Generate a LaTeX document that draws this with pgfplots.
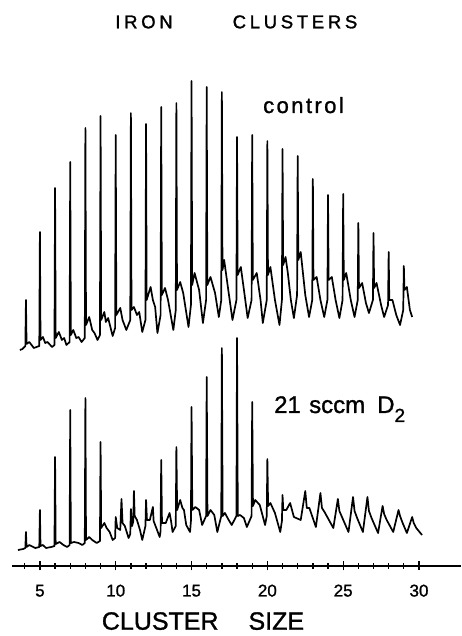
\documentclass[border=0pt]{standalone}
\usepackage{pgfplots}
\pgfplotsset{compat=1.18}
\usepackage{fontspec}
\setmainfont{Liberation Sans}[FakeBold=1.2]
\newfontfamily\titlefont{Liberation Sans}[LetterSpace=20, FakeBold=1.4]
\newfontfamily\labfont{Liberation Sans}[LetterSpace=11, FakeBold=1.2]
\begin{document}
\begin{tikzpicture}
\begin{axis}[
  at={(12pt,70pt)}, anchor=south west,
  scale only axis, width=449pt, height=566pt,
  xmin=3.16, xmax=32.77, ymin=0, ymax=566,
  axis x line=bottom, axis y line=none,
  axis line style={line width=1.8pt, -},
  x axis line style={-},
  xtick={5,10,15,20,25,30},
  xticklabels={5,10,15,20,25,30},
  minor xtick={4,6,7,8,9,11,12,13,14,16,17,18,19,21,22,23,24,26,27,28,29},
  tick align=center,
  major tick length=9pt, minor tick length=6pt,
  tick style={black, line width=1.3pt},
  minor tick style={black, line width=1.3pt},
  tick label style={font=\fontsize{17}{17}\selectfont},
  x tick label style={font=\fontsize{17}{17}\selectfont, anchor=base, yshift=-26pt},
  xlabel={CLUSTER\hspace{30pt}SIZE},
  xlabel style={at={(axis description cs:0.4254,-0.1125)}, anchor=base, inner sep=0pt, font=\fontsize{25}{25}\selectfont},
  clip=false,
]
% control
\addplot[black, line width=1.7pt, line join=round, mark=none] coordinates {
(3.68,216) (3.85,217) (4.04,220) (4.08,266) (4.12,222) (4.3,224) (4.6,218) (4.96,220)
(5,334) (5.04,226) (5.2,229) (5.35,223) (5.5,224) (5.8,219) (5.96,221)
(6,378) (6.04,228) (6.25,234) (6.45,226) (6.6,228) (6.75,221) (6.96,224)
(7,404) (7.04,231) (7.2,236) (7.4,228) (7.55,229) (7.75,224) (7.96,228)
(8,438) (8.04,241) (8.25,249) (8.45,236) (8.6,233) (8.8,226) (8.96,231)
(9,450) (9.04,246) (9.25,254) (9.35,244) (9.5,248) (9.8,230) (9.96,238)
(10,431) (10.04,251) (10.3,258) (10.45,246) (10.7,236) (10.96,246)
(11,453) (11.04,256) (11.2,259) (11.4,251) (11.55,254) (11.75,234) (11.96,246)
(12,442) (12.04,266) (12.3,279) (12.45,266) (12.6,259) (12.75,233) (12.96,251)
(13,459) (13.04,271) (13.25,278) (13.45,266) (13.8,236) (13.96,256)
(14,463) (14.04,276) (14.25,284) (14.45,273) (14.8,239) (14.96,261)
(15,485) (15.04,281) (15.2,293) (15.5,276) (15.75,243) (15.96,266)
(16,479) (16.04,281) (16.25,289) (16.55,273) (16.8,249) (16.96,266)
(17,474) (17.04,296) (17.15,306) (17.45,273) (17.7,246) (17.96,266)
(18,429) (18.04,291) (18.25,299) (18.5,271) (18.7,248) (18.96,266)
(19,431) (19.04,286) (19.3,293) (19.55,266) (19.7,243) (19.96,266)
(20,425) (20.04,291) (20.2,299) (20.5,266) (20.8,241) (20.96,266)
(21,417) (21.04,301) (21.2,309) (21.35,293) (21.55,266) (21.75,248) (21.96,271)
(22,410) (22.04,306) (22.2,314) (22.5,271) (22.75,249) (22.96,266)
(23,387) (23.04,286) (23.25,289) (23.5,266) (23.75,249) (23.96,266)
(24,371) (24.04,286) (24.25,289) (24.5,266) (24.75,248) (24.96,266)
(25,372) (25.04,286) (25.2,293) (25.5,266) (25.75,249) (25.96,266)
(26,343) (26.04,278) (26.25,283) (26.5,263) (26.7,253) (26.96,266)
(27,333) (27.04,278) (27.2,283) (27.5,261) (27.7,249) (27.96,261)
(28,314) (28.04,266) (28.25,266) (28.5,251) (28.75,241) (28.96,256)
(29,300) (29.04,276) (29.2,279) (29.4,256) (29.55,249)
};
% 21 sccm D2
\addplot[black, line width=1.7pt, line join=round, mark=none] coordinates {
(3.55,16) (3.9,17) (4.04,18) (4.08,34) (4.12,19) (4.3,21) (4.7,18) (4.96,19)
(5,56) (5.04,20) (5.2,21) (5.4,18) (5.75,19) (5.96,20)
(6,109) (6.04,22) (6.3,24) (6.55,21) (6.8,19) (6.96,21)
(7,156) (7.04,23) (7.25,24) (7.55,23) (7.8,21) (7.96,23)
(8,168) (8.04,26) (8.25,29) (8.45,26) (8.75,23) (8.96,25)
(9,124) (9.04,38) (9.25,43) (9.4,38) (9.6,34) (9.8,26) (9.96,28)
(10,49) (10.1,38) (10.3,36) (10.38,67) (10.45,43) (10.6,40) (10.85,28) (10.96,32)
(11,57) (11.08,40) (11.16,45) (11.2,75) (11.25,50) (11.4,46) (11.6,36) (11.75,26) (11.96,40)
(12,66) (12.06,46) (12.25,46) (12.45,59) (12.5,45) (12.65,39) (12.9,29) (12.96,35)
(13,106) (13.05,43) (13.3,43) (13.55,53) (13.65,45) (13.75,34) (13.96,40)
(14,119) (14.05,56) (14.25,66) (14.4,58) (14.5,56) (14.65,41) (14.9,34) (14.96,45)
(15,159) (15.05,56) (15.25,59) (15.5,56) (15.7,41) (15.96,50)
(16,189) (16.05,50) (16.25,56) (16.5,51) (16.7,34) (16.96,50)
(17,218) (17.05,50) (17.2,53) (17.45,46) (17.65,41) (17.96,50)
(18,228) (18.05,50) (18.2,51) (18.45,48) (18.65,39) (18.96,50)
(19,164) (19.05,60) (19.2,66) (19.5,61) (19.85,41) (19.96,50)
(20,107) (20.05,60) (20.2,63) (20.5,53) (20.85,34) (20.96,45)
(21,71) (21.05,56) (21.25,56) (21.5,63) (21.75,49) (22.2,46)
(22.5,75) (22.6,58) (22.77,58) (23.2,39)
(23.5,73) (23.6,58) (23.77,54) (24.35,38)
(24.65,67) (24.75,55) (24.92,49) (25.35,34)
(25.65,69) (25.75,55) (25.92,48) (26.3,34)
(26.6,69) (26.7,55) (26.87,48) (27.3,33)
(27.6,60) (27.7,52) (27.87,46) (28.3,34)
(28.65,56) (28.75,50) (28.92,43) (29.2,33)
(29.55,49) (29.65,43) (29.82,38) (30.2,31)
};
\end{axis}
\node[anchor=base, inner sep=0pt, font=\titlefont\fontsize{18.5}{18.5}\selectfont] at (144pt,607.7pt) {IRON};
\node[anchor=base, inner sep=0pt, font=\titlefont\fontsize{18.5}{18.5}\selectfont] at (295pt,607.7pt) {CLUSTERS};
\node[anchor=base west, inner sep=0pt, font=\labfont\fontsize{22}{22}\selectfont] at (263pt,523pt) {control};
\node[anchor=base west, inner sep=0pt, font=\fontsize{24}{24}\selectfont] at (274pt,223pt) {21};
\node[anchor=base west, inner sep=0pt, font=\fontsize{24}{24}\selectfont] at (309pt,223pt) {sccm};
\node[anchor=base west, inner sep=0pt, font=\fontsize{24}{24}\selectfont] at (377pt,223pt) {D\raisebox{-9pt}{\fontsize{19}{19}\selectfont 2}};
\pgfresetboundingbox
\path (0,0) rectangle (461pt,636pt);
\end{tikzpicture}
\end{document}
